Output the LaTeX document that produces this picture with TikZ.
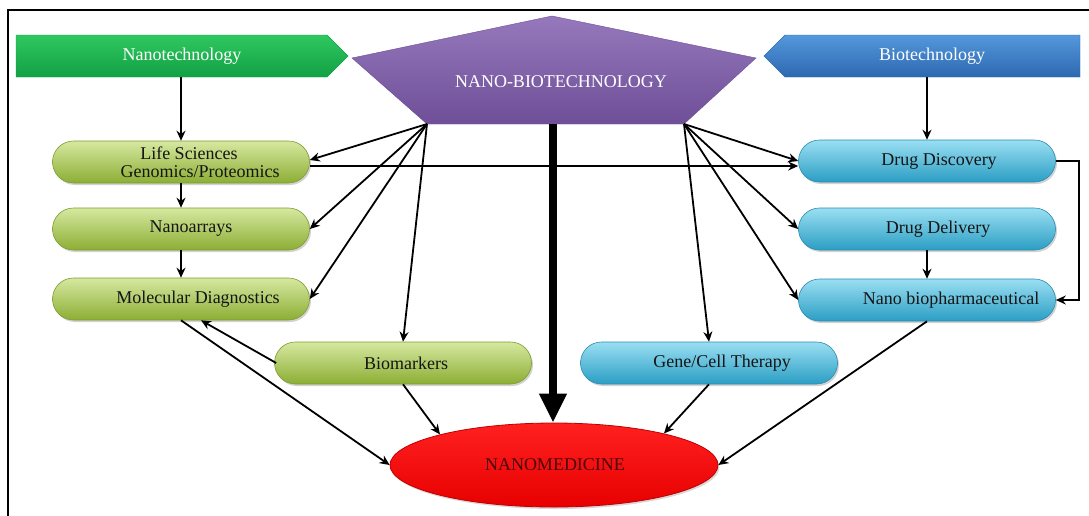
\documentclass[tikz,border=0pt]{standalone}
\usepackage{fontspec}
\setmainfont{Liberation Serif}
\usetikzlibrary{arrows.meta,shapes.geometric,shadows}
\definecolor{hgA}{HTML}{2FC860}
\definecolor{hgB}{HTML}{12A044}
\definecolor{puA}{HTML}{9678BC}
\definecolor{puB}{HTML}{6E4F98}
\definecolor{hbA}{HTML}{5598DC}
\definecolor{hbB}{HTML}{2C68B0}
\definecolor{pgA}{HTML}{D6E8A0}
\definecolor{pgB}{HTML}{8CAE34}
\definecolor{pgD}{HTML}{7E9C30}
\definecolor{pbA}{HTML}{9ADFF2}
\definecolor{pbB}{HTML}{2B9EC4}
\definecolor{pbD}{HTML}{2A8CB0}
\definecolor{rdA}{HTML}{FF2020}
\definecolor{rdB}{HTML}{E80000}
\definecolor{rdD}{HTML}{C00000}
\definecolor{txt}{HTML}{151515}
\definecolor{nmtxt}{HTML}{4A0808}
\tikzset{
  pill/.style={rounded corners=21pt, minimum width=257pt, minimum height=42pt, inner sep=0pt,
     drop shadow={shadow xshift=1.5pt, shadow yshift=-2pt, opacity=0.35}},
  pillg/.style={pill, top color=pgA, bottom color=pgB, draw=pgD, line width=0.6pt},
  pillb/.style={pill, top color=pbA, bottom color=pbB, draw=pbD, line width=0.6pt},
  lbl/.style={text=txt, align=center, inner sep=0pt, font=\fontsize{18}{18}\selectfont},
  hdrtext/.style={text=white, inner sep=0pt, minimum height=42pt, font=\fontsize{18}{18}\selectfont},
  arr/.style={-{Stealth[length=10pt,width=9pt]}, line width=1.8pt, black},
  bigarr/.style={-{Triangle[length=29pt,width=26pt]}, line width=8.5pt, black}
}
\begin{document}
\begin{tikzpicture}[x=1pt,y=-1pt]
\useasboundingbox (0,0) rectangle (1089,515);
\clip (0,0) rectangle (1089,515);
\fill[white] (0,0) rectangle (1089,515);
\draw[line width=1.6pt] (8,10) rectangle (1120,540);

% header shapes
\path[top color=hgA, bottom color=hgB, draw=hgB] (16,35) -- (327,35) -- (348,56) -- (327,77) -- (16,77) -- cycle;
\node[hdrtext] (nano) at (182,56) {Nanotechnology};
\path[top color=hbA, bottom color=hbB, draw=hbB] (764,56) -- (785,35) -- (1080,35) -- (1080,77) -- (785,77) -- cycle;
\node[hdrtext] (bio) at (932,56) {Biotechnology};
\path[top color=puA, bottom color=puB, draw=puB] (352,58) -- (552,16) -- (756,58) -- (684,124) -- (427,124) -- cycle;
\node[hdrtext] (nbt) at (561,82) {NANO-BIOTECHNOLOGY};
\coordinate (pl) at (427,124);
\coordinate (pr) at (684,124);
\coordinate (pb) at (553,124);

% green pills
\node[pillg] (ls) at (181,162) {};
\node[lbl] at (200,162) {Life Sciences\hspace*{22pt}\\Genomics/Proteomics};
\node[pillg] (na) at (181,229) {};
\node[lbl] at (191,229) {Nanoarrays};
\node[pillg] (md) at (181,299) {};
\node[lbl] at (198,299) {Molecular Diagnostics};
\node[pillg] (bm) at (403,363) {};
\node[lbl] at (406,363) {Biomarkers};

% blue pills
\node[pillb] (dd) at (927,161) {};
\node[lbl] at (939,161) {Drug Discovery};
\node[pillb] (dl) at (927,229) {};
\node[lbl] at (938,229) {Drug Delivery};
\node[pillb] (nb) at (927,300) {};
\node[lbl] at (951,300) {Nano biopharmaceutical};
\node[pillb] (gc) at (709,363) {};
\node[lbl] at (722,363) {Gene/Cell Therapy};

% nanomedicine
\node[ellipse, minimum width=328pt, minimum height=84pt, inner sep=0pt, top color=rdA, bottom color=rdB, draw=rdD, line width=0.8pt,
      drop shadow={shadow xshift=1.5pt, shadow yshift=-2pt, opacity=0.3}] (nm) at (554,465) {};
\node[lbl, text=nmtxt] (nmt) at (555,465) {NANOMEDICINE};

% vertical chains
\draw[arr] (nano.south -| ls.north) -- (ls.north);
\draw[arr] (ls.south) -- (na.north);
\draw[arr] (na.south) -- (md.north);
\draw[arr] (bio.south -| dd.north) -- (dd.north);
\draw[arr] (dl.south) -- (nb.north);
\draw[arr] (dd.east) -- ++(23,0) |- (nb.east);
\draw[arr] ([yshift=-4pt]ls.east) -- ([yshift=-4pt]ls.east -| dd.west);

% from pentagon left vertex
\draw[arr] (pl) -- ([yshift=2pt]ls.east);
\draw[arr] (pl) -- (na.east);
\draw[arr] (pl) -- (md.east);
\draw[arr] (pl) -- (bm.north);
% from pentagon right vertex
\draw[arr] (pr) -- (dd.west);
\draw[arr] (pr) -- (dl.west);
\draw[arr] (pr) -- (nb.west);
\draw[arr] (pr) -- (gc.north);

% thick arrow
\draw[bigarr] (pb) -- (nm.north -| pb);

% to nanomedicine
\draw[arr] (md.south) -- (nm.west);
\draw[arr] ([xshift=2pt]bm.west) -- ([xshift=20pt]md.south);
\draw[arr] (bm.south) -- (nm.165);
\draw[arr] (gc.south) -- (nm.16);
\draw[arr] (nb.south) -- (nm.east);
\end{tikzpicture}
\end{document}
